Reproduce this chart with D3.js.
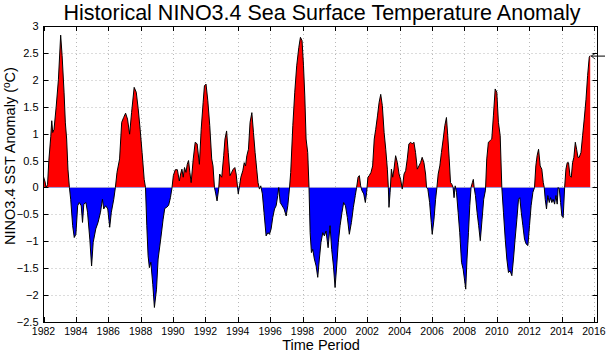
<!DOCTYPE html>
<html>
<head>
<meta charset="utf-8">
<script src="https://cdn.jsdelivr.net/npm/d3@7"></script>
<style>
  body { margin: 0; background: #fff; }
  text { font-family: "Liberation Sans", Arial, Helvetica, sans-serif; }
</style>
</head>
<body>
<div id="chart"></div>
<script>
// decimal year of each reading
const years = [
  1982.0, 1982.1, 1982.16, 1982.25, 1982.33, 1982.45, 1982.51, 1982.57, 1982.65, 1982.78,
  1982.92, 1983.06, 1983.15, 1983.27, 1983.35, 1983.43, 1983.51, 1983.6, 1983.68, 1983.8,
  1983.9, 1984.0, 1984.11, 1984.21, 1984.33, 1984.41, 1984.49, 1984.62, 1984.72, 1984.86,
  1984.97, 1985.07, 1985.23, 1985.37, 1985.52, 1985.64, 1985.72, 1985.84, 1985.97, 1986.09,
  1986.19, 1986.34, 1986.44, 1986.54, 1986.7, 1986.83, 1986.95, 1987.07, 1987.19, 1987.32,
  1987.44, 1987.6, 1987.73, 1987.85, 1987.97, 1988.09, 1988.22, 1988.3, 1988.38, 1988.46,
  1988.54, 1988.63, 1988.75, 1988.85, 1988.98, 1989.08, 1989.24, 1989.39, 1989.49, 1989.61,
  1989.73, 1989.84, 1989.94, 1990.02, 1990.14, 1990.27, 1990.39, 1990.47, 1990.55, 1990.63,
  1990.71, 1990.8, 1990.88, 1990.96, 1991.04, 1991.12, 1991.25, 1991.37, 1991.49, 1991.63,
  1991.74, 1991.86, 1991.94, 1992.04, 1992.15, 1992.27, 1992.39, 1992.47, 1992.56, 1992.64,
  1992.72, 1992.82, 1992.88, 1993.01, 1993.13, 1993.21, 1993.31, 1993.41, 1993.52, 1993.62,
  1993.72, 1993.82, 1993.9, 1994.03, 1994.11, 1994.19, 1994.31, 1994.4, 1994.48, 1994.56,
  1994.66, 1994.76, 1994.87, 1994.97, 1995.07, 1995.17, 1995.25, 1995.34, 1995.42, 1995.52,
  1995.62, 1995.75, 1995.86, 1995.96, 1996.06, 1996.16, 1996.27, 1996.37, 1996.47, 1996.53,
  1996.62, 1996.74, 1996.86, 1996.99, 1997.09, 1997.19, 1997.27, 1997.4, 1997.52, 1997.64,
  1997.77, 1997.87, 1997.97, 1998.06, 1998.14, 1998.22, 1998.32, 1998.4, 1998.47, 1998.55,
  1998.63, 1998.73, 1998.84, 1998.94, 1999.04, 1999.14, 1999.25, 1999.35, 1999.45, 1999.58,
  1999.7, 1999.8, 1999.91, 2000.01, 2000.11, 2000.21, 2000.32, 2000.44, 2000.54, 2000.65,
  2000.77, 2000.89, 2001.02, 2001.14, 2001.26, 2001.34, 2001.43, 2001.51, 2001.59, 2001.67,
  2001.78, 2001.88, 2001.96, 2002.04, 2002.12, 2002.23, 2002.33, 2002.43, 2002.52, 2002.63,
  2002.73, 2002.83, 2002.93, 2003.04, 2003.14, 2003.24, 2003.3, 2003.34, 2003.41, 2003.49,
  2003.57, 2003.65, 2003.75, 2003.86, 2003.96, 2004.06, 2004.16, 2004.27, 2004.37, 2004.47,
  2004.57, 2004.68, 2004.78, 2004.88, 2004.98, 2005.09, 2005.19, 2005.29, 2005.39, 2005.5,
  2005.6, 2005.66, 2005.74, 2005.85, 2005.95, 2006.01, 2006.12, 2006.22, 2006.3, 2006.38,
  2006.48, 2006.58, 2006.69, 2006.79, 2006.89, 2006.97, 2007.06, 2007.14, 2007.22, 2007.3,
  2007.36, 2007.43, 2007.51, 2007.61, 2007.71, 2007.82, 2007.92, 2008.0, 2008.08, 2008.16,
  2008.25, 2008.33, 2008.41, 2008.49, 2008.55, 2008.6, 2008.68, 2008.78, 2008.88, 2008.98,
  2009.09, 2009.19, 2009.3, 2009.38, 2009.48, 2009.59, 2009.69, 2009.79, 2009.9, 2010.0,
  2010.1, 2010.21, 2010.31, 2010.41, 2010.52, 2010.62, 2010.72, 2010.82, 2010.93, 2011.03,
  2011.13, 2011.24, 2011.34, 2011.42, 2011.51, 2011.61, 2011.71, 2011.81, 2011.92, 2012.02,
  2012.12, 2012.23, 2012.33, 2012.41, 2012.49, 2012.58, 2012.68, 2012.78, 2012.87, 2012.93,
  2012.99, 2013.07, 2013.15, 2013.24, 2013.32, 2013.4, 2013.48, 2013.57, 2013.65, 2013.73,
  2013.79, 2013.86, 2013.94, 2014.02, 2014.1, 2014.19, 2014.27, 2014.35, 2014.43, 2014.52,
  2014.6, 2014.68, 2014.76, 2014.85, 2014.93, 2015.01, 2015.09, 2015.2, 2015.3, 2015.4,
  2015.51, 2015.61, 2015.71, 2015.77
];

// NINO3.4 SST anomaly (°C)
const anomaly = [
  0.2, 0.1, 0.0, 0.05, 0.5, 0.95, 1.24, 1.02, 1.08, 1.49,
  2.0, 2.83, 2.45, 1.77, 1.2, 0.9, 0.34, 0.0, -0.22, -0.71,
  -0.93, -0.87, -0.34, -0.28, -0.34, -0.65, -0.31, -0.28, -0.46, -0.96,
  -1.46, -1.02, -0.77, -0.65, -0.46, -0.22, -0.4, -0.34, -0.4, -0.74,
  -0.46, -0.22, 0.0, 0.28, 0.53, 1.21, 1.3, 1.38, 1.27, 0.99,
  1.39, 1.86, 1.77, 1.46, 1.08, 0.65, 0.15, 0.0, -0.71, -1.27,
  -1.49, -1.39, -1.8, -2.23, -1.89, -1.33, -0.96, -0.59, -0.39, -0.37,
  -0.33, -0.19, 0.0, 0.22, 0.33, 0.33, 0.12, 0.25, 0.34, 0.19,
  0.37, 0.28, 0.43, 0.5, 0.28, 0.09, 0.53, 0.84, 0.81, 0.43,
  1.08, 1.58, 1.89, 1.92, 1.61, 1.15, 0.53, 0.4, 0.0, -0.12,
  -0.25, -0.03, 0.25, 0.19, 0.59, 0.9, 1.05, 0.65, 0.22, 0.28,
  0.34, 0.37, 0.25, -0.12, 0.03, 0.19, 0.31, 0.46, 0.4, 0.59,
  0.71, 1.21, 1.39, 1.02, 0.65, 0.34, 0.09, -0.03, 0.03, -0.12,
  -0.46, -0.9, -0.84, -0.87, -0.77, -0.56, -0.4, -0.34, -0.15, 0.0,
  -0.28, -0.34, -0.4, -0.53, -0.34, -0.03, 0.28, 1.15, 1.77, 2.26,
  2.6, 2.79, 2.73, 2.26, 1.7, 0.9, 0.65, 0.0, -0.84, -1.21,
  -1.15, -1.33, -1.46, -1.67, -1.33, -1.02, -0.84, -0.9, -0.81, -1.12,
  -0.71, -1.15, -1.46, -1.86, -1.46, -1.02, -0.71, -0.46, -0.28, -0.34,
  -0.56, -0.87, -0.65, -0.37, -0.15, 0.0, 0.19, 0.22, 0.03, -0.06,
  -0.12, -0.28, -0.09, 0.19, 0.22, 0.28, 0.4, 0.9, 1.08, 1.33,
  1.58, 1.73, 1.52, 1.02, 0.71, 0.34, 0.0, -0.37, -0.09, 0.34,
  0.19, 0.34, 0.59, 0.46, 0.25, 0.15, -0.03, 0.25, 0.31, 0.53,
  0.81, 0.84, 0.81, 0.84, 0.65, 0.34, 0.4, 0.46, 0.56, 0.46,
  0.25, 0.0, -0.03, -0.28, -0.65, -0.87, -0.59, -0.22, 0.0, 0.25,
  0.4, 0.65, 0.9, 1.15, 1.3, 0.96, 0.53, 0.09, 0.06, 0.0,
  -0.19, 0.03, -0.09, -0.46, -0.84, -1.39, -1.52, -1.7, -1.89, -1.33,
  -0.84, -0.34, 0.0, 0.09, 0.15, 0.0, -0.15, -0.46, -0.71, -0.99,
  -0.59, -0.22, -0.05, 0.53, 0.84, 0.87, 0.9, 1.33, 1.83, 1.77,
  1.21, 0.96, 0.0, -0.46, -0.96, -1.33, -1.58, -1.55, -1.64, -1.33,
  -0.96, -0.59, -0.22, -0.19, -0.46, -0.71, -0.96, -1.05, -1.08, -0.71,
  -0.34, -0.09, 0.0, 0.4, 0.59, 0.71, 0.4, 0.34, 0.09, 0.0,
  -0.22, -0.4, -0.15, -0.28, -0.19, -0.28, -0.22, -0.31, -0.15, -0.31,
  0.0, -0.03, -0.28, -0.53, -0.56, 0.0, 0.34, 0.46, 0.46, 0.22,
  0.19, 0.46, 0.56, 0.84, 0.71, 0.56, 0.56, 0.65, 0.96, 1.27,
  1.64, 2.08, 2.42, 2.45
];

const xTicks = d3.range(1982, 2017, 2);
const yTicks = [-2.5, -2, -1.5, -1, -0.5, 0, 0.5, 1, 1.5, 2, 2.5, 3];

const data = years.map((y, i) => ({ year: y, value: anomaly[i] }));

const W = 606, H = 353;
const margin = { top: 26, right: 8.5, bottom: 31, left: 43.5 };
const x0 = margin.left, x1 = W - margin.right;
const y0 = margin.top, y1 = H - margin.bottom;

const svg = d3.select("#chart").append("svg")
  .attr("width", W).attr("height", H);

const xScale = d3.scaleLinear().domain([1982, 2016.22]).range([x0, x1]);
const yScale = d3.scaleLinear().domain([-2.5, 3]).range([y1, y0]);

// dotted grid
svg.append("g").selectAll("line.gx")
  .data(xTicks.slice(1))
  .enter().append("line")
  .attr("x1", (d) => Math.round(xScale(d)) + 0.5)
  .attr("x2", (d) => Math.round(xScale(d)) + 0.5)
  .attr("y1", y0).attr("y2", y1)
  .attr("stroke", "#b8b8b8").attr("stroke-dasharray", "1,3");

svg.append("g").selectAll("line.gy")
  .data(yTicks.slice(1, -1))
  .enter().append("line")
  .attr("x1", x0).attr("x2", x1)
  .attr("y1", (d) => Math.round(yScale(d)) + 0.5)
  .attr("y2", (d) => Math.round(yScale(d)) + 0.5)
  .attr("stroke", "#b8b8b8").attr("stroke-dasharray", "1,3");

// clip above / below zero
const zeroY = yScale(0);
const defs = svg.append("defs");
defs.append("clipPath").attr("id", "clipUp")
  .append("rect").attr("x", x0).attr("y", y0).attr("width", x1 - x0).attr("height", zeroY - y0);
defs.append("clipPath").attr("id", "clipDown")
  .append("rect").attr("x", x0).attr("y", zeroY).attr("width", x1 - x0).attr("height", y1 - zeroY);

const area = d3.area()
  .x((d) => xScale(d.year))
  .y0(zeroY)
  .y1((d) => yScale(d.value));

svg.append("path").datum(data)
  .attr("clip-path", "url(#clipUp)")
  .attr("d", area).attr("fill", "#ff0000");

svg.append("path").datum(data)
  .attr("clip-path", "url(#clipDown)")
  .attr("d", area).attr("fill", "#0000ff");

// baseline
svg.append("line")
  .attr("x1", xScale(years[0])).attr("x2", xScale(years[years.length - 1]))
  .attr("y1", zeroY).attr("y2", zeroY)
  .attr("stroke", "#9a9ad8").attr("stroke-width", 1);

const line = d3.line()
  .x((d) => xScale(d.year))
  .y((d) => yScale(d.value));

svg.append("path").datum(data)
  .attr("d", line).attr("fill", "none")
  .attr("stroke", "#000").attr("stroke-width", 1);

// small marker at the last value
const last = data[data.length - 1];
const my = yScale(last.value) + 0.5;
svg.append("line")
  .attr("x1", xScale(last.year) + 1).attr("x2", W - 1)
  .attr("y1", my).attr("y2", my)
  .attr("stroke", "#000").attr("stroke-width", 1);
svg.append("path")
  .attr("d", `M${xScale(last.year) + 5},${my - 3} L${xScale(last.year) + 1},${my} L${xScale(last.year) + 5},${my + 3}`)
  .attr("fill", "none").attr("stroke", "#000").attr("stroke-width", 0.8);

// box
svg.append("rect")
  .attr("x", x0).attr("y", y0 + 0.5)
  .attr("width", x1 - x0).attr("height", y1 - y0)
  .attr("fill", "none").attr("stroke", "#000").attr("stroke-width", 1);

// inward ticks, all four sides
const tickLen = 5;
const tg = svg.append("g").attr("stroke", "#000").attr("stroke-width", 1);
xTicks.forEach((d) => {
  const px = Math.round(xScale(d)) + 0.5;
  tg.append("line").attr("x1", px).attr("x2", px).attr("y1", y1).attr("y2", y1 - tickLen);
  tg.append("line").attr("x1", px).attr("x2", px).attr("y1", y0).attr("y2", y0 + tickLen);
});
yTicks.forEach((d) => {
  const py = Math.round(yScale(d)) + 0.5;
  tg.append("line").attr("x1", x0).attr("x2", x0 + tickLen).attr("y1", py).attr("y2", py);
  tg.append("line").attr("x1", x1).attr("x2", x1 - tickLen).attr("y1", py).attr("y2", py);
});

// tick labels
svg.append("g").selectAll("text")
  .data(xTicks)
  .enter().append("text")
  .attr("x", (d) => xScale(d))
  .attr("y", y1 + 13)
  .attr("text-anchor", "middle")
  .attr("font-size", 10.5)
  .text((d) => d);

svg.append("g").selectAll("text")
  .data(yTicks)
  .enter().append("text")
  .attr("x", x0 - 5)
  .attr("y", (d) => yScale(d) + 4)
  .attr("text-anchor", "end")
  .attr("font-size", 11)
  .text((d) => (d < 0 ? "\u2212" + Math.abs(d) : d));

// titles
svg.append("text")
  .attr("x", 322).attr("y", 20)
  .attr("text-anchor", "middle")
  .attr("font-size", 21.5)
  .text("Historical NINO3.4 Sea Surface Temperature Anomaly");

svg.append("text")
  .attr("x", 321).attr("y", 350.3)
  .attr("text-anchor", "middle")
  .attr("font-size", 14.5)
  .text("Time Period");

const yl = svg.append("text")
  .attr("transform", `translate(15,156) rotate(-90)`)
  .attr("text-anchor", "middle")
  .attr("font-size", 14.5);
yl.append("tspan").text("NINO3.4 SST Anomaly (");
yl.append("tspan").attr("dy", -5).attr("font-size", 10).text("o");
yl.append("tspan").attr("dy", 5).text("C)");
</script>
</body>
</html>
